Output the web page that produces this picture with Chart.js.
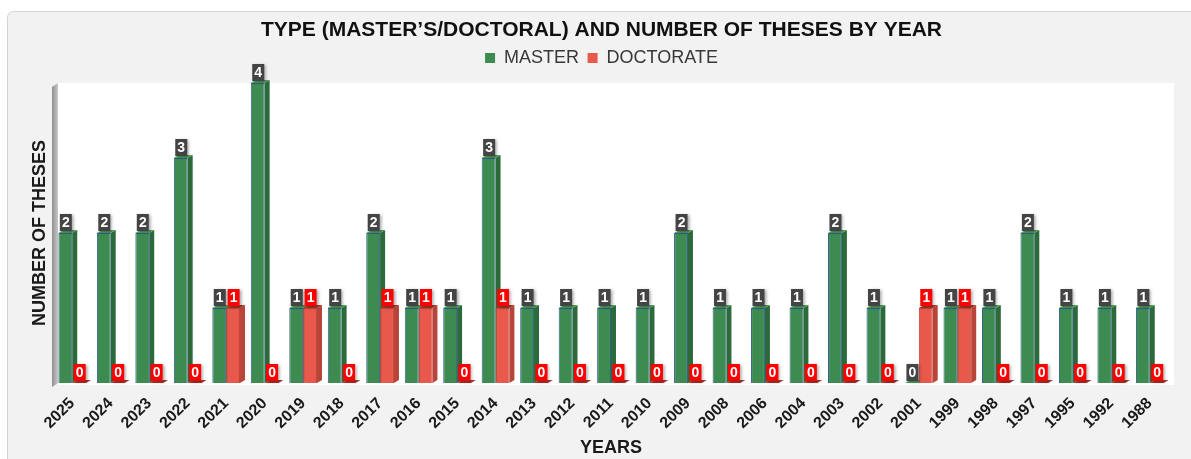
<!DOCTYPE html>
<html>
<head>
<meta charset="utf-8">
<script src="https://cdn.jsdelivr.net/npm/chart.js@4/dist/chart.umd.min.js"></script>
<style>
  html, body { margin: 0; padding: 0; background: #fff; }
  #chart { position: absolute; left: 0; top: 0; }
</style>
</head>
<body>
<canvas id="chart" width="1191" height="459"></canvas>
<script>
// data
const years = ["2025", "2024", "2023", "2022", "2021", "2020", "2019", "2018", "2017", "2016",
  "2015", "2014", "2013", "2012", "2011", "2010", "2009", "2008", "2006", "2004",
  "2003", "2002", "2001", "1999", "1998", "1997", "1995", "1992", "1988"];
const master = [2, 2, 2, 3, 1, 4, 1, 1, 2, 1, 1, 3, 1, 1, 1, 1, 2, 1, 1, 1, 2, 1, 0, 1, 1, 2, 1, 1, 1];
const doctorate = [0, 0, 0, 0, 1, 0, 1, 0, 1, 1, 0, 1, 0, 0, 0, 0, 0, 0, 0, 0, 0, 0, 1, 1, 0, 0, 0, 0, 0];
const seriesNames = ["MASTER", "DOCTORATE"];

const FONT = '"Liberation Sans", Arial, sans-serif';
const DX = 5, DY = 3; // fake 3d depth

// panel, white plot area and the grey side wall
const backdrop = {
  id: "backdrop",
  beforeDraw(chart) {
    const ctx = chart.ctx;
    const a = chart.chartArea;
    ctx.save();
    ctx.fillStyle = "#fff";
    ctx.fillRect(0, 0, chart.width, chart.height);
    ctx.beginPath();
    ctx.roundRect(7.5, 11.5, chart.width + 20, chart.height + 20, 6);
    ctx.fillStyle = "#f2f2f2";
    ctx.fill();
    ctx.strokeStyle = "#d4d4d4";
    ctx.lineWidth = 1;
    ctx.stroke();

    ctx.fillStyle = "#fff";
    ctx.fillRect(a.left + 5, a.top, a.right - a.left, a.bottom - a.top + 2);

    const g = ctx.createLinearGradient(a.left - 1, 0, a.left + 5, 0);
    g.addColorStop(0, "#8e8e8e");
    g.addColorStop(1, "#c9c9c9");
    ctx.fillStyle = g;
    ctx.beginPath();
    ctx.moveTo(a.left - 1, a.top + 4);
    ctx.lineTo(a.left + 5, a.top);
    ctx.lineTo(a.left + 5, a.bottom);
    ctx.lineTo(a.left - 1, a.bottom + 4);
    ctx.closePath();
    ctx.fill();
    ctx.restore();
  }
};

// side and top faces behind the flat bars
const depth = {
  id: "depth",
  beforeDatasetsDraw(chart) {
    const ctx = chart.ctx;
    ctx.save();
    chart.data.datasets.forEach((ds, i) => {
      const meta = chart.getDatasetMeta(i);
      meta.data.forEach((bar) => {
        const l = bar.x - bar.width / 2, r = bar.x + bar.width / 2;
        ctx.fillStyle = ds.sideColor;
        ctx.beginPath();
        ctx.moveTo(r, bar.y);
        ctx.lineTo(r + DX, bar.y - DY);
        ctx.lineTo(r + DX, bar.base - DY);
        ctx.lineTo(r, bar.base);
        ctx.closePath();
        ctx.fill();
        ctx.fillStyle = ds.topColor;
        ctx.beginPath();
        ctx.moveTo(l, bar.y);
        ctx.lineTo(l + DX, bar.y - DY);
        ctx.lineTo(r + DX, bar.y - DY);
        ctx.lineTo(r, bar.y);
        ctx.closePath();
        ctx.fill();
      });
    });
    ctx.restore();
  }
};

// little value boxes on top of each bar
const valueBoxes = {
  id: "valueBoxes",
  afterDatasetsDraw(chart) {
    const ctx = chart.ctx;
    chart.data.datasets.forEach((ds, i) => {
      const meta = chart.getDatasetMeta(i);
      meta.data.forEach((bar, j) => {
        const w = 12, h = 17;
        const cx = bar.x + 0.5;
        const bottom = bar.y - 2;
        ctx.save();
        ctx.shadowColor = "rgba(0,0,0,0.35)";
        ctx.shadowBlur = 3;
        ctx.shadowOffsetX = 2;
        ctx.shadowOffsetY = 1;
        ctx.fillStyle = ds.labelColor;
        ctx.fillRect(cx - w / 2, bottom - h, w, h);
        ctx.restore();
        ctx.save();
        ctx.fillStyle = "#fff";
        ctx.font = "bold 14px " + FONT;
        ctx.textAlign = "center";
        ctx.textBaseline = "middle";
        ctx.fillText(String(ds.data[j]), cx, bottom - h / 2 + 1);
        ctx.restore();
      });
    });
  }
};

new Chart(document.getElementById("chart"), {
  type: "bar",
  data: {
    labels: years,
    datasets: [
      {
        label: seriesNames[0],
        data: master,
        backgroundColor: "#3d8b50",
        borderColor: "#2f5f8c",
        borderWidth: 1,
        sideColor: "#2c6a3b",
        topColor: "#4f9d60",
        labelColor: "#444444"
      },
      {
        label: seriesNames[1],
        data: doctorate,
        backgroundColor: "#e8584b",
        borderColor: "#c2453a",
        borderWidth: 1,
        sideColor: "#b8443a",
        topColor: "#a8372c",
        labelColor: "#ff0000"
      }
    ]
  },
  options: {
    responsive: false,
    animation: false,
    devicePixelRatio: 1,
    categoryPercentage: 0.72,
    barPercentage: 1,
    layout: { padding: { left: 12, right: 0, top: 0, bottom: 0 } },
    plugins: {
      title: {
        display: true,
        text: "TYPE (MASTER\u2019S/DOCTORAL) AND NUMBER OF THESES BY YEAR",
        color: "#111",
        font: { family: FONT, size: 21, weight: "bold", lineHeight: 1 },
        padding: { top: 19.5, bottom: 0 }
      },
      subtitle: {
        display: true,
        text: "",
        weight: 500,
        font: { size: 1, lineHeight: 1 },
        padding: { top: 0, bottom: 5 }
      },
      legend: {
        position: "top",
        labels: {
          color: "#383838",
          font: { family: FONT, size: 18 },
          boxWidth: 10,
          boxHeight: 10,
          padding: 8.5,
          generateLabels(chart) {
            return Chart.defaults.plugins.legend.labels.generateLabels(chart).map((it) => {
              it.strokeStyle = it.fillStyle;
              it.lineWidth = 0;
              return it;
            });
          }
        }
      },
      tooltip: { enabled: false }
    },
    scales: {
      x: {
        grid: { display: false, drawTicks: false },
        border: { display: false },
        ticks: {
          autoSkip: false,
          minRotation: 45,
          maxRotation: 45,
          padding: 11,
          color: "#1a1a1a",
          font: { family: FONT, size: 16, weight: "bold" }
        },
        title: {
          display: true,
          text: "YEARS",
          color: "#1a1a1a",
          font: { family: FONT, size: 18, weight: "bold" },
          padding: { top: 0, bottom: 0 }
        },
        afterFit(s) { s.height = 76; }
      },
      y: {
        min: 0,
        max: 4,
        grid: { display: false, drawTicks: false },
        border: { display: false },
        ticks: { display: false },
        title: {
          display: true,
          text: "NUMBER OF THESES",
          color: "#1a1a1a",
          font: { family: FONT, size: 18, weight: "bold" },
          padding: { top: 17, bottom: 0 }
        },
        afterFit(s) { s.width = 41; }
      },
      yr: {
        position: "right",
        grid: { display: false, drawTicks: false },
        border: { display: false },
        ticks: { display: false },
        afterFit(s) { s.width = 22; }
      }
    }
  },
  plugins: [backdrop, depth, valueBoxes]
});
</script>
</body>
</html>
